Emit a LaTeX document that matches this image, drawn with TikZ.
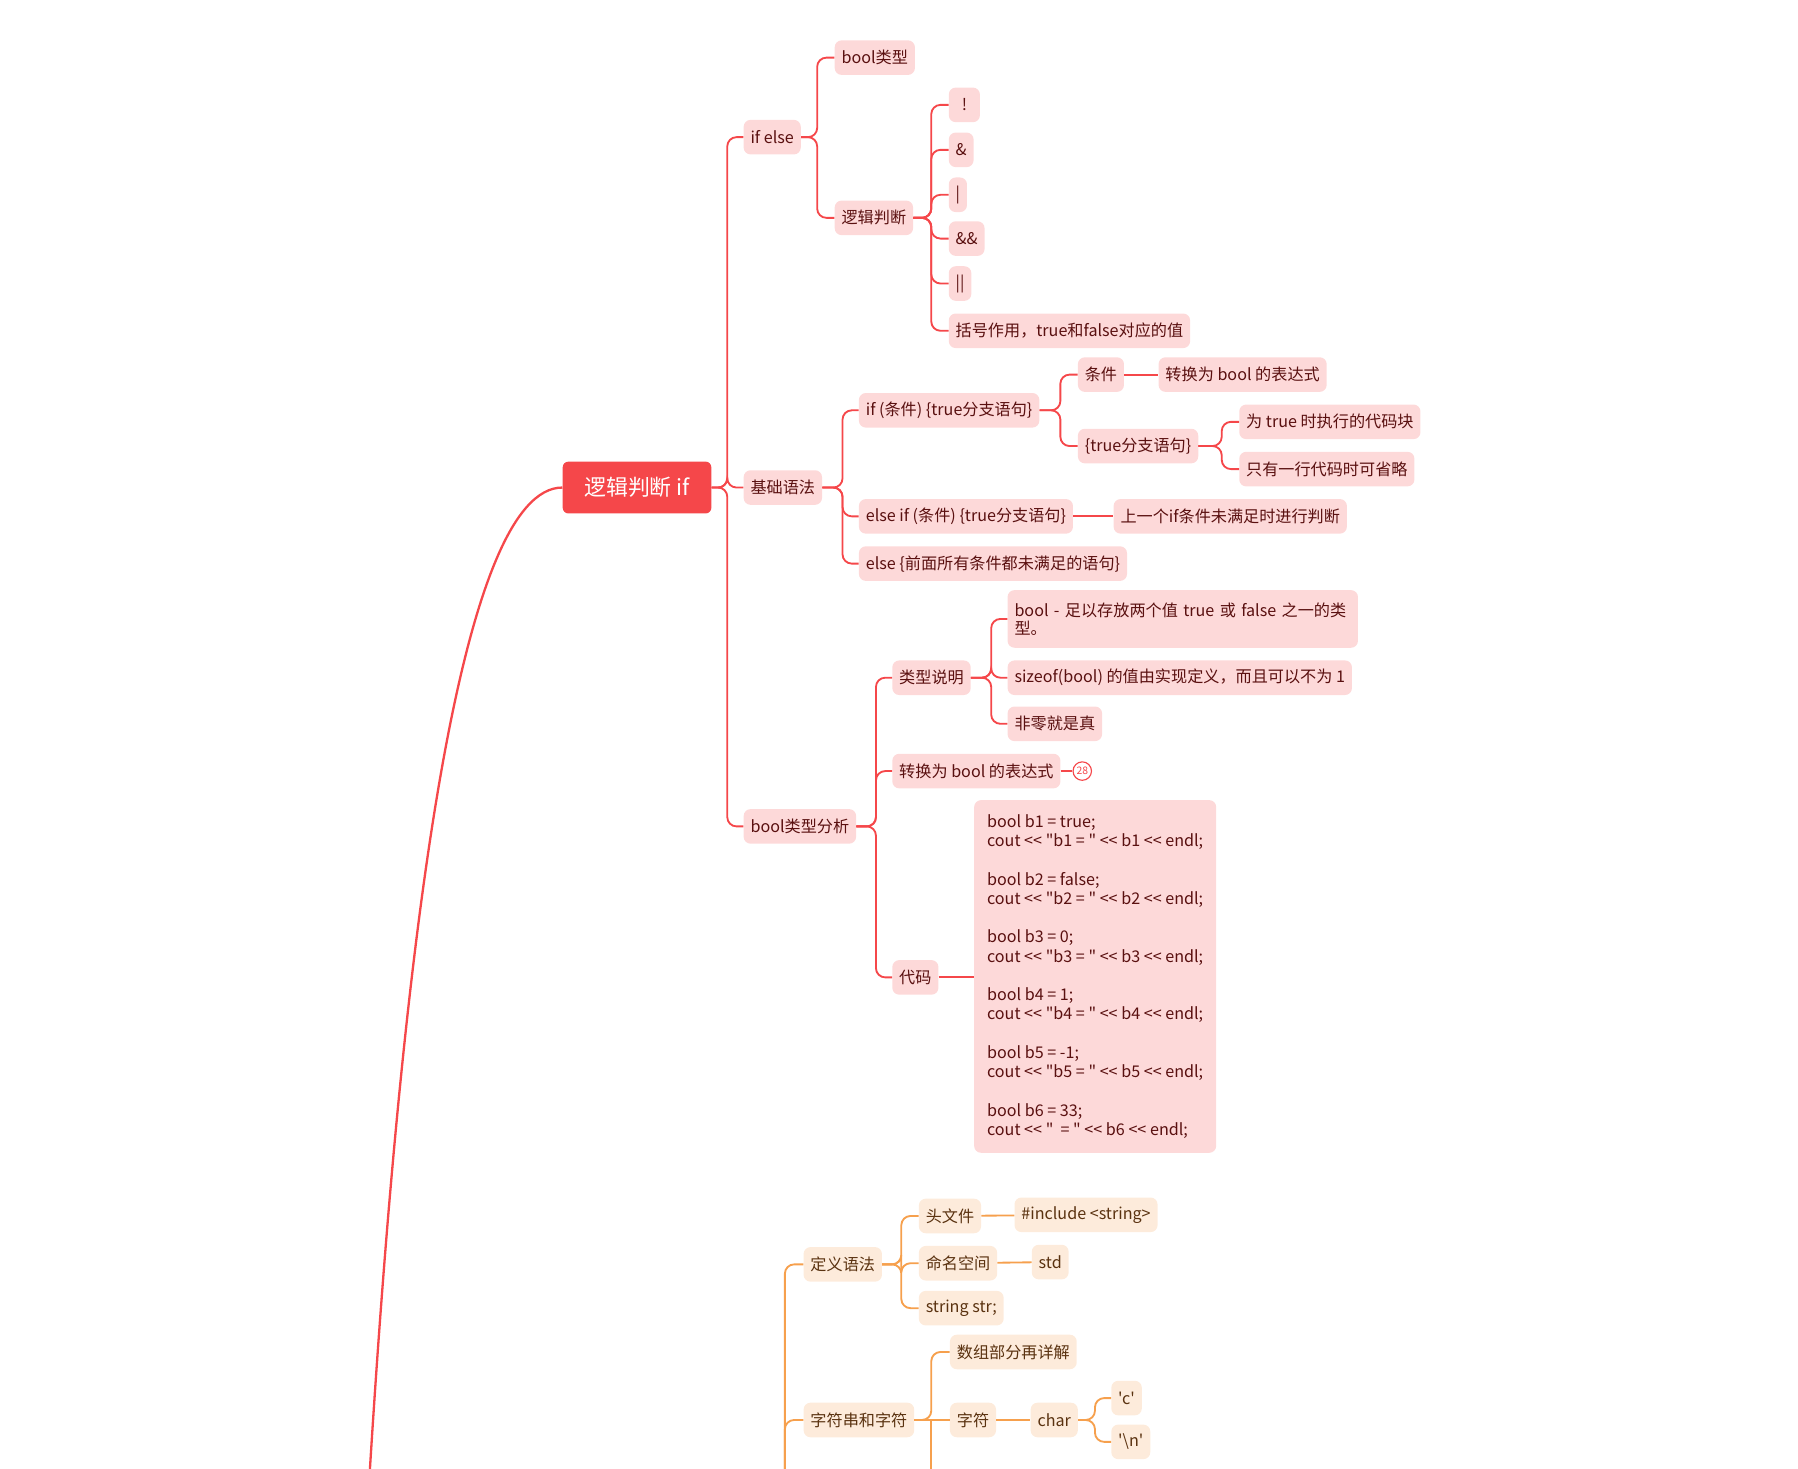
\documentclass[tikz,border=0pt]{standalone}
\usepackage{fontspec}
\newfontfamily\cjk{Noto Sans CJK SC}
\definecolor{rl}{HTML}{F5474A}
\definecolor{rf}{HTML}{FDD9D9}
\definecolor{rt}{HTML}{5A1010}
\definecolor{ol}{HTML}{F6A04D}
\definecolor{of}{HTML}{FDEBDB}
\definecolor{ot}{HTML}{5A3210}
\begin{document}
\begin{tikzpicture}[x=1pt,y=-1pt,
  n/.style={anchor=west,fill=rf,text=rt,rounded corners=6pt,minimum height=30pt,inner xsep=6pt,inner ysep=2pt,font=\cjk\fontsize{14}{16}\selectfont},
  o/.style={n,fill=of,text=ot},
  e/.style={draw=rl,line width=1.6pt,rounded corners=8pt},
  oe/.style={e,draw=ol}]
\useasboundingbox (0,0) rectangle (1560,1274);
% root
\node[anchor=west,fill=rl,text=white,rounded corners=5pt,minimum height=45pt,minimum width=129pt,font=\cjk\fontsize{19}{22}\selectfont] (root) at (488,423) {逻辑判断 if};
\coordinate (rend) at (320,1290);
\draw[draw=rl,line width=2pt] (root.west) .. controls (400,423) and (350,800) .. (rend);
\coordinate (s1) at (631,0);
\node[n] (ifelse) at (645,119) {if else};
\node[n] (jc) at (645,423) {基础语法};
\node[n] (ba) at (645,717) {bool类型分析};
\foreach \c in {ifelse,jc,ba} \draw[e] (root.east) -- (root.east -| s1) |- (\c.west);
% if else
\coordinate (s2) at (709,0);
\node[n] (bt) at (724,50) {bool类型};
\node[n] (lj) at (724,189) {逻辑判断};
\foreach \c in {bt,lj} \draw[e] (ifelse.east) -- (ifelse.east -| s2) |- (\c.west);
\coordinate (s3) at (808,0);
\node[n,minimum width=27pt] (o1) at (823,91) {!};
\node[n] (o2) at (823,130) {\&};
\node[n] (o3) at (823,169) {|};
\node[n] (o4) at (823,207) {\&\&};
\node[n] (o5) at (823,246) {||};
\node[n] (o6) at (823,287) {括号作用，true和false对应的值};
\foreach \c in {o1,o2,o3,o4,o5,o6} \draw[e] (lj.east) -- (lj.east -| s3) |- (\c.west);
% 基础语法
\coordinate (s4) at (731,0);
\node[n] (if1) at (745,356) {if (条件) \{true分支语句\}};
\node[n] (if2) at (745,448) {else if (条件) \{true分支语句\}};
\node[n] (if3) at (745,489) {else \{前面所有条件都未满足的语句\}};
\foreach \c in {if1,if2,if3} \draw[e] (jc.east) -- (jc.east -| s4) |- (\c.west);
\coordinate (s5) at (920,0);
\node[n] (tj) at (935,325) {条件};
\node[n] (tf) at (935,387) {\{true分支语句\}};
\foreach \c in {tj,tf} \draw[e] (if1.east) -- (if1.east -| s5) |- (\c.west);
\node[n] (zh) at (1005,325) {转换为 bool 的表达式};
\draw[e] (tj) -- (zh);
\coordinate (s6) at (1060,0);
\node[n] (w1) at (1075,366) {为 true 时执行的代码块};
\node[n] (w2) at (1075,407) {只有一行代码时可省略};
\foreach \c in {w1,w2} \draw[e] (tf.east) -- (tf.east -| s6) |- (\c.west);
\node[n] (sy) at (966,448) {上一个if条件未满足时进行判断};
\draw[e] (if2) -- (sy);
% bool类型分析
\coordinate (s7) at (760,0);
\node[n] (lx) at (774,588) {类型说明};
\node[n] (zb) at (774,669) {转换为 bool 的表达式};
\node[n] (dm) at (774,848) {代码};
\foreach \c in {lx,zb,dm} \draw[e] (ba.east) -- (ba.east -| s7) |- (\c.west);
\coordinate (s8) at (860,0);
\node[n,align=left,minimum height=50pt,text width=292pt] (t1) at (874,537) {bool - 足以存放两个值 true 或 false 之一的类\\型。};
\node[n] (t2) at (874,588) {sizeof(bool) 的值由实现定义，而且可以不为 1};
\node[n] (t3) at (874,628) {非零就是真};
\foreach \c in {t1,t2,t3} \draw[e] (lx.east) -- (lx.east -| s8) |- (\c.west);
\node[draw=rl,circle,line width=1pt,inner sep=0pt,minimum size=16pt,text=rl,font=\cjk\fontsize{9}{10}\selectfont] (c28) at (939,669) {28};
\draw[draw=rl,line width=1.2pt] (zb.east) -- (c28.west);
\node[n,anchor=north west,align=left,minimum width=210pt,minimum height=306pt,inner ysep=8pt,font=\cjk\fontsize{14}{16.7}\selectfont] (code) at (845,694) {%
bool b1 = true;\\cout << "b1 = " << b1 << endl;\\[16.7pt]
bool b2 = false;\\cout << "b2 = " << b2 << endl;\\[16.7pt]
bool b3 = 0;\\cout << "b3 = " << b3 << endl;\\[16.7pt]
bool b4 = 1;\\cout << "b4 = " << b4 << endl;\\[16.7pt]
bool b5 = -1;\\cout << "b5 = " << b5 << endl;\\[16.7pt]
bool b6 = 33;\\cout << "\ \ = " << b6 << endl;};
\draw[e] (dm.east) -- (dm.east -| code.west);
% orange part
\coordinate (ob) at (681,1300);
\node[o] (dy) at (697,1097) {定义语法};
\node[o] (zf) at (697,1232) {字符串和字符};
\foreach \c in {dy,zf} \draw[oe] (ob) |- (\c.west);
\coordinate (s9) at (782,0);
\node[o] (tw) at (797,1055) {头文件};
\node[o] (mm) at (797,1096) {命名空间};
\node[o] (ss) at (797,1135) {string str;};
\foreach \c in {tw,mm,ss} \draw[oe] (dy.east) -- (dy.east -| s9) |- (\c.west);
\node[o] (inc) at (880,1054) {\#include <string>};
\node[o] (std) at (895,1095) {std};
\draw[oe] (tw) -- (inc);
\draw[oe] (mm) -- (std);
\coordinate (s10) at (808,1300);
\node[o] (sz) at (824,1173) {数组部分再详解};
\node[o] (zfu) at (824,1232) {字符};
\draw[oe] (zf.east) -- (zf.east -| s10) |- (sz.west);
\draw[oe] (zf.east) -- (zfu.west);
\draw[oe] (zf.east -| s10) -- (s10);
\node[o] (ch) at (894,1232) {char};
\draw[oe] (zfu) -- (ch);
\coordinate (s11) at (950,0);
\node[o] (cc) at (964,1213) {'c'};
\node[o] (cn) at (964,1251) {'\textbackslash n'};
\foreach \c in {cc,cn} \draw[oe] (ch.east) -- (ch.east -| s11) |- (\c.west);
\end{tikzpicture}
\end{document}
